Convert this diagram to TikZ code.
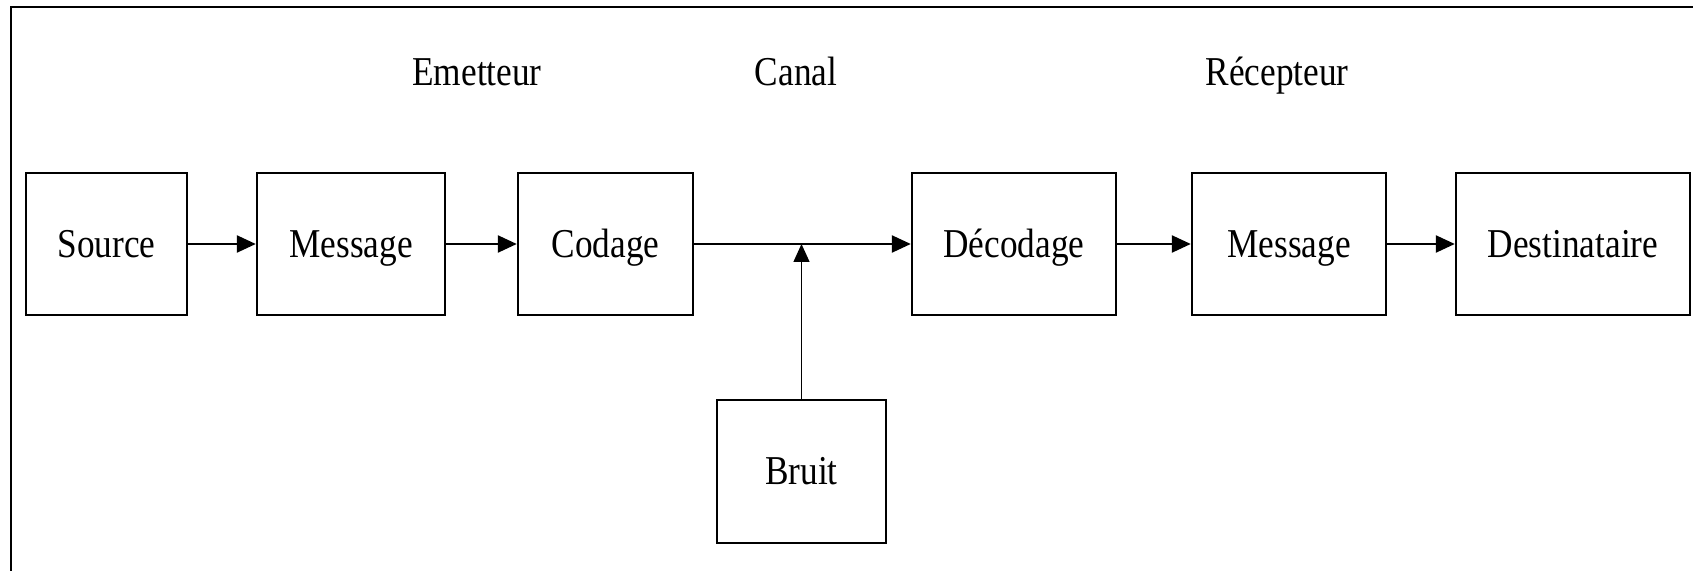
\documentclass[tikz,border=0pt]{standalone}
\usepackage{fontspec}
\setmainfont{Liberation Serif}[FakeStretch=0.86]
\usetikzlibrary{arrows.meta}

\tikzset{
	bloc/.style={draw, line width=1.2pt, minimum height=71pt, inner sep=0pt, text height=15.5pt, text depth=2pt, font=\fontsize{20.5}{24}\selectfont},
	titre/.style={text height=15.5pt, text depth=2pt, font=\fontsize{20.5}{24}\selectfont},
	fleche/.style={-{Triangle[length=9.5pt,width=8.5pt]}, line width=1.2pt},
}

\begin{document}
\begin{tikzpicture}[x=0.5pt,y=-0.5pt]
		\useasboundingbox (0,0) rectangle (1693,571);
		% Cadre
		\draw[line width=1.2pt] (11,571) -- (11,7) -- (1693,7);

		% Emetteur
		\node[titre] (emetteur) at (477,72) {Emetteur};
		\node[bloc, minimum width=80.5pt] (source) at (106.5,244) {Source};
		\node[bloc, minimum width=94pt] (message) at (351,244) {Message};
		\node[bloc, minimum width=87.5pt] (codage) at (605.5,244) {Codage};
		\draw[fleche] (source) -- (message);
		\draw[fleche] (message) -- (codage);

		% Canal
		\node[titre] (canal) at (796,72) {Canal};
		\node[bloc, minimum width=84.5pt, minimum height=71.5pt] (bruit) at (801.5,471.5) {Bruit};
		\node[bloc, minimum width=102pt] (decodage) at (1014,244) {Décodage};
		\coordinate (jonction) at (bruit.north |- codage.east);
		\draw[fleche] (codage) -- (decodage);
		\draw[-{Triangle[length=9pt,width=8pt]}, line width=0.7pt] (bruit) -- (jonction);

		% Recepteur
		\node[titre] (recepteur) at (1277,72) {Récepteur};
		\node[bloc, minimum width=97pt] (message2) at (1289,244) {Message};
		\node[bloc, minimum width=117pt] (destinataire) at (1573,244) {Destinataire};
		\draw[fleche] (decodage) -- (message2);
		\draw[fleche] (message2) -- (destinataire);
	\end{tikzpicture}
\end{document}
